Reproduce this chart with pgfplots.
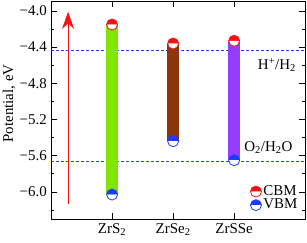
\documentclass[border=0pt]{standalone}
\usepackage{pgfplots}
\pgfplotsset{compat=1.18}
\usepackage{fontspec}
\setmainfont{Liberation Serif}
\usetikzlibrary{arrows.meta}
\definecolor{cgreen}{RGB}{128,230,0}
\definecolor{cbrown}{RGB}{140,52,10}
\definecolor{cpurple}{RGB}{150,60,255}
\definecolor{cred}{RGB}{240,20,20}
\definecolor{cblue}{RGB}{30,60,255}
\begin{document}
\fontsize{15}{17}\selectfont
\begin{tikzpicture}
\begin{axis}[
  scale only axis,
  width=254bp, height=218bp,
  xmin=0, xmax=4.16,
  ymin=-6.3, ymax=-3.89,
  xtick={1,2,3},
  xticklabels={ZrS\textsubscript{2},ZrSe\textsubscript{2},ZrSSe},
  ytick={-6.0,-5.6,-5.2,-4.8,-4.4,-4.0},
  yticklabels={−6.0,−5.6,−5.2,−4.8,−4.4,−4.0},
  minor ytick={-6.2,-5.8,-5.4,-5.0,-4.6,-4.2},
  tick align=inside,
  major tick length=6bp,
  minor tick length=3bp,
  tick style={black, line width=0.6pt},
  axis line style={line width=0.8pt},
  yticklabel style={xshift=1bp},
  xticklabel style={yshift=1bp},
  tick label style={font=\fontsize{15}{17}\selectfont},
  legend style={draw=none, fill=none, at={(0.975,0.035)}, anchor=south east,
    font=\fontsize{15}{17}\selectfont, row sep=1.5bp, inner sep=0bp,
    nodes={inner ysep=0bp, inner xsep=1bp}},
  legend cell align=left,
  legend image code/.code={\path (0cm,0cm) (0.42cm,0cm); \draw[#1] plot coordinates {(0.2cm,0cm)};},
  clip=false,
]
% reference levels
\addplot[cblue, line width=1.1pt, dash pattern=on 3bp off 2bp, forget plot] coordinates {(0,-4.44) (4.16,-4.44)};
\addplot[cblue, line width=1.1pt, dash pattern=on 3bp off 2bp, forget plot] coordinates {(0,-5.66) (4.16,-5.66)};
% arrow
\addplot[cred, line width=0.7pt, -{Stealth[length=17bp,width=12bp]}, forget plot] coordinates {(0.28,-6.13) (0.28,-4.01)};
% bars
\addplot[cgreen, line width=12bp, forget plot] coordinates {(1,-4.15) (1,-6.03)};
\addplot[cbrown, line width=12bp, forget plot] coordinates {(2,-4.36) (2,-5.44)};
\addplot[cpurple, line width=12bp, forget plot] coordinates {(3,-4.33) (3,-5.65)};
% markers
\addplot[only marks, mark=halfcircle*, mark size=5.5bp, mark options={draw=cred, fill=cred, line width=0.8pt}] coordinates {(1,-4.15) (2,-4.36) (3,-4.33)};
\addlegendentry{CBM}
\addplot[only marks, mark=halfcircle*, mark size=5.5bp, mark options={draw=cblue, fill=cblue, line width=0.8pt}] coordinates {(1,-6.03) (2,-5.44) (3,-5.65)};
\addlegendentry{VBM}
\node[anchor=center] at (axis cs:3.70,-4.60) {H\textsuperscript{+}/H\textsubscript{2}};
\node[anchor=center] at (axis cs:3.56,-5.51) {O\textsubscript{2}/H\textsubscript{2}O};
\node[rotate=90, anchor=center, inner sep=0pt, font=\fontsize{15}{17}\selectfont] at ([xshift=-42bp]rel axis cs:0,0.53) {Potential, eV};
\coordinate (bl) at (rel axis cs:0,0);
\coordinate (tr) at (rel axis cs:1,1);
\end{axis}
\pgfresetboundingbox
\path ([shift={(-51bp,-24bp)}]bl) rectangle ([shift={(2bp,1bp)}]tr);
\end{tikzpicture}
\end{document}
